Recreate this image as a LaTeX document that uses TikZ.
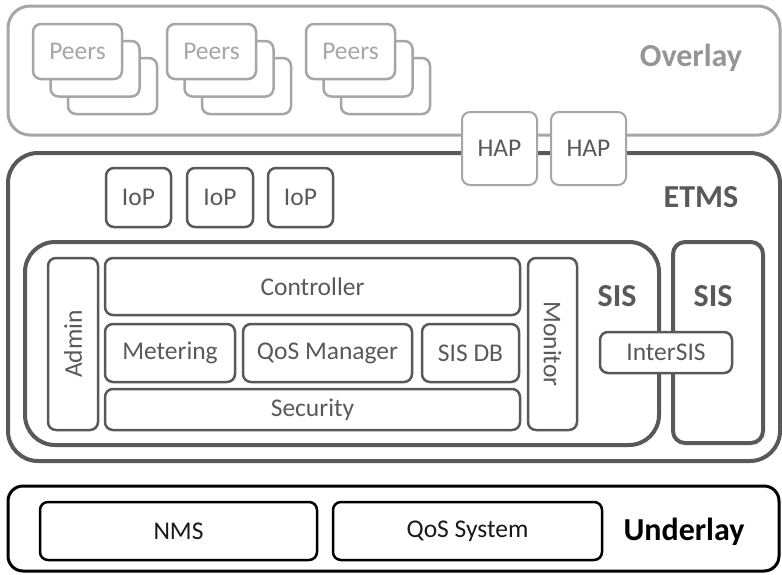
\documentclass[tikz,border=0pt]{standalone}
\usepackage{fontspec}
\usepackage{graphicx}
\setmainfont{Carlito}
\definecolor{lightg}{HTML}{A6A6A6}
\definecolor{darkg}{HTML}{595959}
\newcommand{\mkbox}[7]{%
  \pgfmathsetmacro{\mbw}{(#5)-(#3)}\pgfmathsetmacro{\mbh}{(#6)-(#4)}%
  \node[#1, minimum width=\mbw pt, minimum height=\mbh pt, inner sep=0pt, outer sep=0pt] (#2) at ({((#3)+(#5))/2},{((#4)+(#6))/2}) {#7};}
\tikzset{
  txt/.style={font=\fontsize{25.5}{29}\selectfont},
  big/.style={font=\fontsize{32}{36}\selectfont\bfseries},
  overlaybox/.style={draw=lightg, line width=3pt, rounded corners=22pt, rectangle},
  peerbox/.style={draw=lightg, fill=white, line width=2.5pt, rounded corners=8pt, rectangle, txt, text=lightg},
  hapbox/.style={draw=lightg, fill=white, line width=2pt, rounded corners=8pt, rectangle, txt, text=darkg},
  etmsbox/.style={draw=darkg, line width=4pt, rounded corners=30pt, rectangle},
  sisbox/.style={draw=darkg, line width=4pt, rounded corners=30pt, rectangle},
  sistwo/.style={draw=darkg, line width=4pt, rounded corners=12pt, rectangle},
  inbox/.style={draw=darkg, fill=white, line width=2.5pt, rounded corners=8pt, rectangle, txt, text=darkg},
  underbox/.style={draw=black, line width=3pt, rounded corners=15pt, rectangle},
  ubox/.style={draw=black, fill=white, line width=2.5pt, rounded corners=8pt, rectangle, txt, text=black!90},
}
\begin{document}
\begin{tikzpicture}[x=1pt,y=-1pt]
\useasboundingbox[fill=white] (0,0) rectangle (782,574);
% Overlay
\mkbox{overlaybox}{overlay}{8}{6}{780}{135}{}
\node[big, text=lightg!90!black] (overlaylbl) at (691,58) {Overlay};
% Peers groups
\foreach \g/\px in {1/33,2/167,3/306}{
  \mkbox{peerbox}{pc\g}{\px+35}{58}{\px+124}{114}{}
  \mkbox{peerbox}{pb\g}{\px+17.5}{41}{\px+106.5}{96.5}{}
  \mkbox{peerbox}{pa\g}{\px}{24}{\px+89}{79}{Peers}
}
% ETMS
\mkbox{etmsbox}{etms}{8}{153}{780}{461}{}
\node[big, text=darkg] (etmslbl) at (701,197) {ETMS};
% HAP
\mkbox{hapbox}{hap1}{462}{112}{537}{185}{HAP}
\mkbox{hapbox}{hap2}{551}{112}{626}{185}{HAP}
% IoP
\mkbox{inbox}{iop1}{106}{168}{171}{227}{IoP}
\mkbox{inbox}{iop2}{187}{168}{253}{227}{IoP}
\mkbox{inbox}{iop3}{268}{168}{333}{227}{IoP}
% SIS
\mkbox{sisbox}{sis}{25}{242}{659}{445}{}
\mkbox{inbox}{admin}{48}{258}{98}{430}{\rotatebox{90}{Admin}}
\mkbox{inbox}{controller}{105}{258}{520}{315}{Controller}
\mkbox{inbox}{metering}{105}{324}{235}{382}{Metering}
\mkbox{inbox}{qosm}{243}{324}{412}{382}{QoS Manager}
\mkbox{inbox}{sisdb}{422}{324}{519}{382}{SIS DB}
\mkbox{inbox}{security}{105}{389}{520}{430}{Security}
\mkbox{inbox}{monitor}{528}{258}{577}{430}{\rotatebox{-90}{Monitor}}
\node[big, text=darkg] (sislbl) at (617,296) {SIS};
\mkbox{sistwo}{sis2}{673}{242}{763}{443}{}
\node[big, text=darkg] (sis2lbl) at (713,296) {SIS};
\mkbox{inbox}{intersis}{600}{332}{732}{373}{InterSIS}
% Underlay
\mkbox{underbox}{underlay}{8}{486}{779}{571}{}
\mkbox{ubox}{nms}{40}{502}{317}{560}{NMS}
\mkbox{ubox}{qossys}{333}{502}{602}{560}{QoS System}
\node[big, text=black] (underlbl) at (684,532) {Underlay};
\end{tikzpicture}
\end{document}
